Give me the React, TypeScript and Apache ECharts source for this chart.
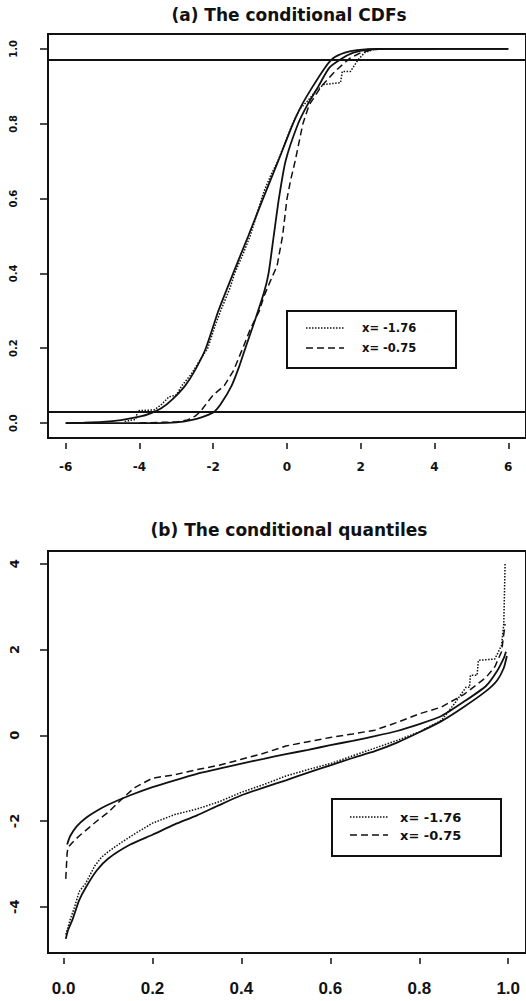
import React, { useEffect, useRef } from "react";
import * as echarts from "echarts";

const titleA = "(a) The conditional CDFs";
const titleB = "(b) The conditional quantiles";
const legendLabels = ["x= -1.76", "x= -0.75"];

const xTicksA = [-6, -4, -2, 0, 2, 4, 6];
const yTicksA = [0, 0.2, 0.4, 0.6, 0.8, 1.0];
const xTicksB = [0, 0.2, 0.4, 0.6, 0.8, 1.0];
const yTicksB = [-4, -2, 0, 2, 4];
const bandLevels = [0.025, 0.975];

// Panel (a): conditional CDFs
const cdfSmooth176 = [[-6,0],[-5.5,0.001],[-5,0.003],[-4.5,0.008],[-4,0.017],[-3.7,0.026],[-3.4,0.04],[-3.1,0.064],[-2.76,0.1],[-2.5,0.14],[-2.2,0.2],[-1.86,0.3],[-1.46,0.4],[-1.05,0.5],[-0.65,0.6],[-0.24,0.7],[0.16,0.8],[0.4,0.85],[0.7,0.9],[1.03,0.95],[1.25,0.975],[1.57,0.99],[1.9,0.997],[2.5,1],[6,1]];
const cdfSmooth075 = [[-6,0],[-3.5,0],[-3,0.002],[-2.6,0.008],[-2.3,0.016],[-2,0.028],[-1.8,0.05],[-1.5,0.1],[-1.3,0.15],[-1.13,0.2],[-0.85,0.28],[-0.62,0.35],[-0.5,0.4],[-0.36,0.5],[-0.22,0.6],[-0.04,0.7],[0.3,0.8],[0.55,0.85],[0.85,0.9],[1.15,0.95],[1.5,0.975],[1.8,0.99],[2.2,0.998],[2.8,1],[6,1]];
const cdfEmp176 = [[-4.4,0.004],[-4.1,0.01],[-4.05,0.033],[-3.6,0.035],[-3.4,0.05],[-3.2,0.07],[-3.0,0.075],[-2.85,0.1],[-2.6,0.13],[-2.35,0.17],[-2.15,0.2],[-1.95,0.26],[-1.8,0.3],[-1.55,0.36],[-1.42,0.4],[-1.2,0.45],[-1.0,0.5],[-0.78,0.57],[-0.62,0.62],[-0.45,0.66],[-0.25,0.7],[-0.05,0.75],[0.15,0.8],[0.35,0.84],[0.55,0.86],[0.8,0.89],[1.0,0.905],[1.45,0.91],[1.5,0.94],[1.72,0.94],[1.92,0.97],[2.1,0.99],[2.4,1],[4,1]];
const cdfEmp075 = [[-4,0],[-3,0.003],[-2.7,0.008],[-2.5,0.018],[-2.35,0.03],[-2.2,0.05],[-2.0,0.075],[-1.7,0.1],[-1.45,0.14],[-1.2,0.2],[-1.0,0.25],[-0.75,0.3],[-0.62,0.34],[-0.45,0.38],[-0.27,0.42],[-0.12,0.5],[0.0,0.6],[0.1,0.65],[0.22,0.7],[0.43,0.8],[0.6,0.85],[0.93,0.9],[1.3,0.94],[1.7,0.975],[2.0,0.99],[2.3,0.998],[2.6,1]];

// Panel (b): conditional quantiles
const qSmooth176 = [[0.005,-4.75],[0.01,-4.55],[0.02,-4.3],[0.035,-3.85],[0.05,-3.55],[0.075,-3.15],[0.1,-2.88],[0.15,-2.55],[0.2,-2.32],[0.25,-2.08],[0.3,-1.87],[0.35,-1.63],[0.4,-1.4],[0.45,-1.22],[0.5,-1.05],[0.55,-0.87],[0.6,-0.7],[0.65,-0.53],[0.7,-0.37],[0.75,-0.17],[0.8,0.07],[0.85,0.33],[0.9,0.66],[0.95,1.03],[0.975,1.28],[0.99,1.57],[0.997,1.85]];
const qSmooth075 = [[0.008,-2.55],[0.015,-2.35],[0.03,-2.12],[0.05,-1.93],[0.075,-1.76],[0.1,-1.62],[0.15,-1.4],[0.2,-1.21],[0.25,-1.05],[0.3,-0.9],[0.35,-0.78],[0.4,-0.66],[0.45,-0.55],[0.5,-0.44],[0.55,-0.34],[0.6,-0.23],[0.65,-0.13],[0.7,-0.02],[0.75,0.1],[0.8,0.26],[0.85,0.45],[0.9,0.78],[0.95,1.15],[0.975,1.5],[0.99,1.8],[0.995,1.95]];
const qEmp176 = [[0.005,-4.65],[0.015,-4.3],[0.025,-4.0],[0.035,-3.65],[0.05,-3.45],[0.07,-3.05],[0.085,-2.85],[0.1,-2.72],[0.13,-2.5],[0.16,-2.3],[0.2,-2.05],[0.25,-1.85],[0.3,-1.72],[0.35,-1.55],[0.4,-1.33],[0.45,-1.15],[0.5,-0.95],[0.55,-0.8],[0.6,-0.66],[0.65,-0.48],[0.7,-0.3],[0.75,-0.12],[0.8,0.08],[0.85,0.35],[0.88,0.75],[0.905,1.12],[0.913,1.12],[0.915,1.4],[0.93,1.4],[0.933,1.75],[0.97,1.78],[0.985,2.1],[0.99,2.6],[0.993,4.0]];
const qEmp075 = [[0.005,-3.35],[0.008,-2.75],[0.01,-2.62],[0.02,-2.5],[0.035,-2.35],[0.05,-2.22],[0.075,-2.0],[0.1,-1.8],[0.135,-1.45],[0.16,-1.22],[0.2,-1.0],[0.25,-0.92],[0.3,-0.8],[0.35,-0.7],[0.4,-0.56],[0.45,-0.42],[0.5,-0.25],[0.55,-0.15],[0.6,-0.05],[0.65,0.03],[0.7,0.12],[0.75,0.3],[0.8,0.5],[0.85,0.66],[0.9,0.95],[0.95,1.35],[0.97,1.6],[0.985,1.95],[0.993,2.6]];

const INK = "#111";
const DOT = [1.5, 1.5];
const DASH = [7, 4];

function buildOption() {
  const solid = (data: number[][], xi: number, extra: any = {}) => ({
    type: "line", data, xAxisIndex: xi, yAxisIndex: xi, symbol: "none", silent: true,
    smooth: 0.2,
    lineStyle: { color: INK, width: 1.8, type: "solid" }, ...extra,
  });
  const styled = (data: number[][], xi: number, dash: number[]) => ({
    type: "line", data, xAxisIndex: xi, yAxisIndex: xi, symbol: "none", silent: true,
    lineStyle: { color: INK, width: 1.5, type: dash },
  });
  const tick = (len: number, vals: number[]) => ({
    show: true, length: len, customValues: vals, lineStyle: { color: INK, width: 1.5 },
  });
  return {
    animation: false,
    backgroundColor: "#fff",
    grid: [
      { left: 48, top: 34, width: 480, height: 404, show: true, borderColor: INK, borderWidth: 2, backgroundColor: "transparent" },
      { left: 48, top: 551, width: 481, height: 402, show: true, borderColor: INK, borderWidth: 2, backgroundColor: "transparent" },
    ],
    xAxis: [
      {
        type: "value", gridIndex: 0, min: -6.48, max: 6.48, offset: 5, position: "bottom",
        axisLine: { show: false, onZero: false }, splitLine: { show: false },
        axisTick: tick(6, xTicksA),
        axisLabel: { customValues: xTicksA, margin: 18, color: INK, fontFamily: "DejaVu Sans", fontWeight: "bold", fontSize: 12, formatter: (v: number) => String(Math.round(v)) },
      },
      {
        type: "value", gridIndex: 1, min: -0.035, max: 1.04, offset: 5, position: "bottom",
        axisLine: { show: false, onZero: false }, splitLine: { show: false },
        axisTick: tick(6, xTicksB),
        axisLabel: { customValues: xTicksB, margin: 22, color: INK, fontFamily: "Liberation Sans", fontWeight: "bold", fontSize: 17, formatter: (v: number) => v.toFixed(1) },
      },
    ],
    yAxis: [
      {
        type: "value", gridIndex: 0, min: -0.04, max: 1.04, position: "left",
        axisLine: { show: false, onZero: false }, splitLine: { show: false },
        axisTick: tick(8, yTicksA),
        axisLabel: { customValues: yTicksA, rotate: 90, margin: 30, color: INK, fontFamily: "DejaVu Sans", fontWeight: "bold", fontSize: 10, formatter: (v: number) => v.toFixed(1) },
      },
      {
        type: "value", gridIndex: 1, min: -5.08, max: 4.3, position: "left",
        axisLine: { show: false, onZero: false }, splitLine: { show: false },
        axisTick: tick(8, yTicksB),
        axisLabel: { customValues: yTicksB, rotate: 90, margin: 27, color: INK, fontFamily: "DejaVu Sans", fontWeight: "bold", fontSize: 13, formatter: (v: number) => String(Math.round(v)) },
      },
    ],
    series: [
      solid(cdfSmooth176, 0, {
        markLine: {
          silent: true, symbol: ["none", "none"], label: { show: false },
          lineStyle: { color: INK, width: 2, type: "solid" },
          data: bandLevels.map((v) => ({ yAxis: v })),
        },
      }),
      solid(cdfSmooth075, 0),
      styled(cdfEmp176, 0, DOT),
      styled(cdfEmp075, 0, DASH),
      solid(qSmooth176, 1),
      solid(qSmooth075, 1),
      styled(qEmp176, 1, DOT),
      styled(qEmp075, 1, DASH),
    ],
    graphic: [
      { type: "text", x: 289, y: 15, style: { text: titleA, fill: INK, font: 'bold 17px "DejaVu Sans"', textAlign: "center", textVerticalAlign: "middle" } },
      { type: "text", x: 289, y: 530, style: { text: titleB, fill: INK, font: 'bold 17px "DejaVu Sans"', textAlign: "center", textVerticalAlign: "middle" } },
      legendGroup(287, 311, 306, 362, 328, 348, 11.5),
      legendGroup(332, 799, 350, 400, 817, 835, 13),
    ],
  };
}

function legendGroup(bx: number, by: number, sx: number, tx: number, y1: number, y2: number, fs: number) {
  return {
    type: "group",
    children: [
      { type: "rect", shape: { x: bx, y: by, width: 169, height: 57 }, style: { fill: "#fff", stroke: INK, lineWidth: 2 } },
      { type: "line", shape: { x1: sx, y1, x2: sx + 38, y2: y1 }, style: { stroke: INK, lineWidth: 1.5, lineDash: DOT } },
      { type: "line", shape: { x1: sx, y1: y2, x2: sx + 38, y2 }, style: { stroke: INK, lineWidth: 1.5, lineDash: DASH } },
      { type: "text", x: tx, y: y1, style: { text: legendLabels[0], fill: INK, font: `bold ${fs}px "DejaVu Sans"`, textAlign: "left", textVerticalAlign: "middle" } },
      { type: "text", x: tx, y: y2, style: { text: legendLabels[1], fill: INK, font: `bold ${fs}px "DejaVu Sans"`, textAlign: "left", textVerticalAlign: "middle" } },
    ],
  };
}

export default function App() {
  const ref = useRef<HTMLDivElement>(null);
  useEffect(() => {
    const chart = echarts.init(ref.current as HTMLDivElement, null, { renderer: "svg" });
    chart.setOption(buildOption() as any);
    return () => chart.dispose();
  }, []);
  return (
    <div
      ref={ref}
      style={{ position: "absolute", left: 0, top: 0, width: 526, height: 1001, background: "#fff" }}
    />
  );
}
